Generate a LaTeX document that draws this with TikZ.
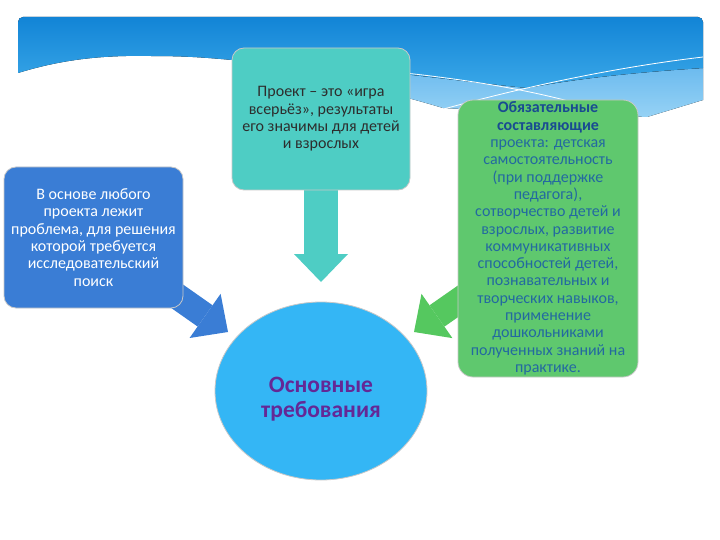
\documentclass[tikz,border=0pt]{standalone}
\usepackage{fontspec}
\setmainfont{Carlito}
\usepackage{tikz}
\usetikzlibrary{positioning,arrows.meta,shapes.geometric,calc}

\definecolor{bandeHaut}{RGB}{18,132,214}
\definecolor{bandeBas}{RGB}{58,168,232}
\definecolor{bandeClair}{RGB}{105,185,238}
\definecolor{bandeClairBas}{RGB}{150,210,245}
\definecolor{bleuProbl}{RGB}{58,125,213}
\definecolor{turq}{RGB}{78,205,196}
\definecolor{vert}{RGB}{95,200,110}
\definecolor{vertFleche}{RGB}{85,200,95}
\definecolor{ciel}{RGB}{52,182,245}
\definecolor{violetTexte}{RGB}{100,40,150}
\definecolor{texteVert}{RGB}{35,105,160}
\definecolor{texteVertF}{RGB}{25,75,145}
\definecolor{texteSombre}{RGB}{45,45,45}
\definecolor{bord}{RGB}{200,200,200}

\pgfdeclarelayer{fond}
\pgfdeclarelayer{fleches}
\pgfsetlayers{fond,fleches,main}

\begin{document}
\begin{tikzpicture}[x=1pt,y=-1pt,
    boite/.style={draw=bord,line width=0.8pt,rounded corners=12pt,inner sep=0pt,align=center,
        font=\fontsize{16}{17.3}\selectfont},
    fleche/.style={line width=#1,-{Triangle[length=28pt,width=54pt,line width=0pt]}}]

    \useasboundingbox (0,0) rectangle (720,540);

    % Bandeau du haut
    \begin{pgfonlayer}{fond}
        \fill[white] (0,0) rectangle (720,540);
        \fill[top color=bandeClair,bottom color=bandeClairBas]
            (300,64) .. controls (380,70) and (450,80) .. (527,88)
            .. controls (580,78) and (640,72) .. (703,68) -- (703,100) -- (647,117)
            .. controls (560,113) and (480,110) .. (443,108)
            .. controls (400,95) and (340,80) .. (300,72) -- cycle;
        \fill[top color=bandeHaut,bottom color=bandeBas]
            (18,73) [rounded corners=5pt] -- (18,17) -- (703,17) [sharp corners] -- (703,68)
            .. controls (640,72) and (580,78) .. (527,88)
            .. controls (450,80) and (380,70) .. (300,64)
            .. controls (270,62) .. (232,60)
            .. controls (200,57) and (180,56) .. (150,56)
            .. controls (100,55) and (60,60) .. (18,73) -- cycle;
        \draw[white,line width=0.8pt] (300,64) .. controls (420,72) and (520,85) .. (600,110);
        \draw[white,line width=0.8pt] (440,110) .. controls (520,88) and (610,68) .. (703,57);
    \end{pgfonlayer}

    % Blocs
    \node[boite,fill=bleuProbl,text=white,minimum width=179pt,minimum height=141pt] (probl) at (93.5,237.5)
        {В основе любого\\проекта лежит\\проблема, для решения\\которой требуется\\исследовательский\\поиск};
    \node[boite,fill=turq,text=texteSombre,minimum width=178pt,minimum height=142pt] (proj) at (321,119)
        {Проект – это «игра\\всерьёз», результаты\\его значимы для детей\\и взрослых};
    \node[boite,fill=vert,text=texteVert,rounded corners=15pt,minimum width=180pt,minimum height=277pt] (req) at (548,238.5)
        {\textbf{\color{texteVertF}Обязательные}\\\textbf{\color{texteVertF}составляющие}\\проекта: детская\\самостоятельность\\(при поддержке\\педагога),\\сотворчество детей и\\взрослых, развитие\\коммуникативных\\способностей детей,\\познавательных и\\творческих навыков,\\применение\\дошкольниками\\полученных знаний на\\практике.};
    \node[ellipse,draw=bord,line width=0.8pt,fill=ciel,text=violetTexte,inner sep=0pt,
        minimum width=212pt,minimum height=178pt,align=center,
        font=\bfseries\fontsize{23.5}{25}\selectfont] (goal) at (321,391) {\rule{0pt}{32pt}Основные\\требования};

    % Flèches vers le centre
    \coordinate (tipL) at (228,332);
    \coordinate (tipB) at (321,282);
    \coordinate (tipR) at (414,332);
    \begin{pgfonlayer}{fleches}
        \draw[fleche=26pt,bleuProbl] (probl.center) -- (tipL);
        \draw[fleche=34pt,turq] (proj.center) -- (tipB);
        \draw[fleche=26pt,vertFleche] (req.center) -- (tipR);
    \end{pgfonlayer}
\end{tikzpicture}
\end{document}
